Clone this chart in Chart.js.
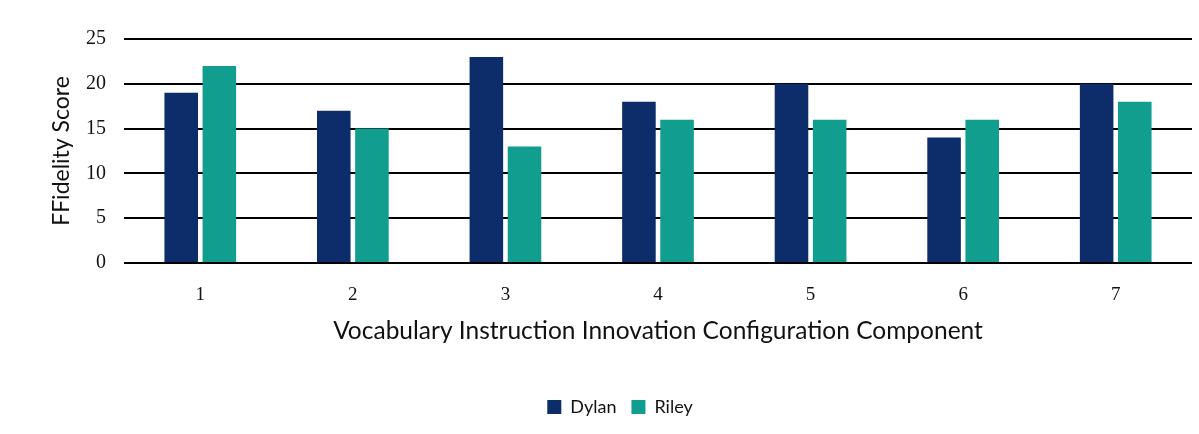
<!DOCTYPE html>
<html><head><meta charset="utf-8">
<script src="https://cdn.jsdelivr.net/npm/chart.js@4/dist/chart.umd.min.js"></script>
<style>html,body{margin:0;padding:0;background:#fff}#wrap{width:1199px;height:434px}</style>
</head><body><div id="wrap"><canvas id="c" width="1199" height="434"></canvas></div>
<script>
const categories = ["1","2","3","4","5","6","7"];
const dylan = [19,17,23,18,20,14,20];
const riley = [22,15,13,16,16,16,18];
const yTicks = [0,5,10,15,20,25];

new Chart(document.getElementById('c'), {
  type: 'bar',
  data: {
    labels: categories,
    datasets: [
      {label:'Dylan', data: dylan, backgroundColor:'#0c2d69', categoryPercentage:0.5, barPercentage:0.88},
      {label:'Riley', data: riley, backgroundColor:'#119e8f', categoryPercentage:0.5, barPercentage:0.88}
    ]
  },
  options: {
    responsive:false, animation:false, devicePixelRatio:1,
    layout:{padding:{top:39,right:7,left:48,bottom:8}},
    plugins:{
      legend:{position:'bottom', labels:{font:{family:'Lato',size:18}, color:'#111', boxWidth:14, boxHeight:14, padding:15}},
      tooltip:{enabled:false}
    },
    scales:{
      x:{
        afterFit: a => { a.height = 120; },
        grid:{display:false}, border:{display:false},
        ticks:{font:{family:'Liberation Serif',size:19}, color:'#111', padding:13},
        title:{display:true, text:'Vocabulary Instruction Innovation Configuration Component', font:{family:'Lato',size:24.5}, color:'#111', padding:{top:0,bottom:37}}
      },
      y:{
        min:0,max:25,
        afterBuildTicks: a => { a.ticks = yTicks.map(v=>({value:v})); },
        afterFit: a => { a.width = 76; },
        grid:{color:'#000', lineWidth:2, drawTicks:false}, border:{display:false},
        ticks:{font:{family:'Liberation Serif',size:20}, color:'#111', padding:18},
        title:{display:true, text:'FFidelity Score', font:{family:'Lato',size:23}, color:'#111', padding:{top:0,bottom:0}}
      }
    }
  }
});
</script></body></html>
